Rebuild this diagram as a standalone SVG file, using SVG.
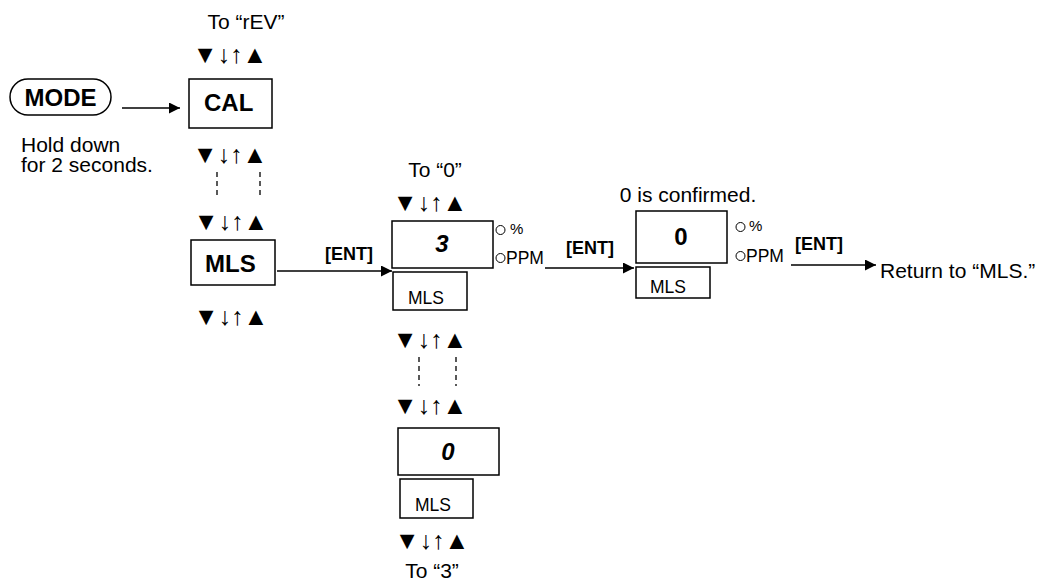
<svg xmlns="http://www.w3.org/2000/svg" width="1055" height="582" viewBox="0 0 1055 582">
<style>
text{font-family:"Liberation Sans",Arial,sans-serif;fill:#000}
.t{font-size:21px}
.ent{font-size:18px;font-weight:bold}
.b{font-size:24px;font-weight:bold}
.bi{font-size:24px;font-weight:bold;font-style:italic;text-anchor:middle}
.s{font-size:17.5px}
.pc{font-size:15px}
.arr{font-size:25px;text-anchor:middle}
.box{fill:#fff;stroke:#000;stroke-width:1.5}
.dash{stroke:#000;stroke-width:1.3;stroke-dasharray:5,4;fill:none}
.line{stroke:#000;stroke-width:1.3;fill:none}
.led{fill:none;stroke:#000;stroke-width:1}
</style>
<defs>
<marker id="ah" viewBox="0 0 10 10" refX="10" refY="5" markerWidth="12" markerHeight="11" markerUnits="userSpaceOnUse" orient="auto"><path d="M0,0 L10,5 L0,10 z" fill="#000"/></marker>
</defs>
<rect width="1055" height="582" fill="#fff"/>

<g id="mode">
<rect x="10" y="79" width="101" height="36" rx="18" class="box"/>
<text x="60.5" y="106" class="b" text-anchor="middle">MODE</text>
<text class="t"><tspan x="21" y="152">Hold down</tspan><tspan x="21" y="172">for 2 seconds.</tspan></text>
</g>

<g id="cal">
<text x="246" y="29" class="t" text-anchor="middle">To “rEV”</text>
<text x="230" y="63" class="arr">▼↓↑▲</text>
<rect x="189" y="79" width="83" height="49" class="box"/>
<text x="204" y="111" class="b">CAL</text>
<text x="230" y="163" class="arr">▼↓↑▲</text>
</g>

<g id="mls">
<text x="231" y="230" class="arr">▼↓↑▲</text>
<rect x="191" y="240" width="84" height="45" class="box"/>
<text x="205" y="272" class="b">MLS</text>
<text x="231" y="325" class="arr">▼↓↑▲</text>
</g>

<g id="disp3">
<text x="435" y="177" class="t" text-anchor="middle">To “0”</text>
<text x="430" y="211" class="arr">▼↓↑▲</text>
<rect x="392" y="221" width="101" height="47" class="box"/>
<text x="442" y="252" class="bi">3</text>
<circle cx="500.5" cy="230" r="4.5" class="led"/>
<text x="510" y="234" class="pc">%</text>
<circle cx="500.5" cy="258" r="4.5" class="led"/>
<text x="506" y="264" class="s">PPM</text>
<rect x="393" y="272" width="74" height="38" class="box"/>
<text x="408" y="304" class="s">MLS</text>
<text x="430" y="348" class="arr">▼↓↑▲</text>
</g>

<g id="disp0low">
<text x="430" y="414" class="arr">▼↓↑▲</text>
<rect x="398" y="428" width="101" height="47" class="box"/>
<text x="448" y="460" class="bi">0</text>
<rect x="400" y="479" width="73" height="39" class="box"/>
<text x="415" y="511" class="s">MLS</text>
<text x="432" y="549" class="arr">▼↓↑▲</text>
<text x="432" y="578" class="t" text-anchor="middle">To “3”</text>
</g>

<g id="confirmed">
<text x="688" y="202" class="t" text-anchor="middle">0 is confirmed.</text>
<rect x="636" y="211" width="91" height="52" class="box"/>
<text x="681" y="245" class="b" text-anchor="middle">0</text>
<circle cx="740.5" cy="227" r="4.5" class="led"/>
<text x="749" y="231" class="pc">%</text>
<circle cx="740.5" cy="256" r="4.5" class="led"/>
<text x="746" y="262" class="s">PPM</text>
<rect x="636" y="267" width="74" height="31" class="box"/>
<text x="650" y="293" class="s">MLS</text>
</g>

<g id="return">
<text x="880" y="278" class="t">Return to “MLS.”</text>
</g>

<g id="connectors">
<line x1="122" y1="108" x2="180" y2="108" class="line" marker-end="url(#ah)"/>
<line x1="217" y1="172" x2="217" y2="198" class="dash"/>
<line x1="260" y1="172" x2="260" y2="198" class="dash"/>
<line x1="277" y1="271" x2="392" y2="271" class="line" marker-end="url(#ah)"/>
<text x="325" y="260" class="ent">[ENT]</text>
<line x1="545" y1="268" x2="634" y2="268" class="line" marker-end="url(#ah)"/>
<text x="566" y="254" class="ent">[ENT]</text>
<line x1="791" y1="265" x2="876" y2="265" class="line" marker-end="url(#ah)"/>
<text x="795" y="250" class="ent">[ENT]</text>
<line x1="419" y1="357" x2="419" y2="386" class="dash"/>
<line x1="456" y1="357" x2="456" y2="386" class="dash"/>
</g>
</svg>
